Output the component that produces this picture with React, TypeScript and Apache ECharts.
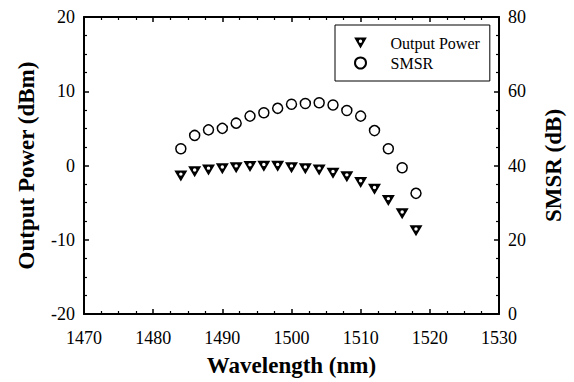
import React, { useEffect, useRef } from "react";
import * as echarts from "echarts";

const wavelengths = [1484, 1486, 1488, 1490, 1492, 1494, 1496, 1498, 1500, 1502, 1504, 1506, 1508, 1510, 1512, 1514, 1516, 1518];
const outputPower = [-1.4, -0.85, -0.6, -0.45, -0.3, -0.15, -0.1, -0.1, -0.3, -0.45, -0.6, -1.05, -1.5, -2.3, -3.2, -4.7, -6.5, -8.8];
const smsr = [44.5, 48.1, 49.6, 50.0, 51.4, 53.3, 54.2, 55.4, 56.5, 56.7, 56.9, 56.3, 54.8, 53.3, 49.4, 44.5, 39.4, 32.5];

const FONT = "Liberation Serif";
const TRI = "path://M0,0L12,0L6,10.4Z M6,1.9A1.6,1.6 0 1 0 6,5.1A1.6,1.6 0 1 0 6,1.9Z";

export default function App() {
  const ref = useRef<HTMLDivElement>(null);
  useEffect(() => {
    document.body.style.margin = "0";
    const chart = echarts.init(ref.current!, undefined, { renderer: "svg" });
    const axisLine = { show: true, onZero: false, lineStyle: { color: "#000", width: 2 } };
    const tick = { show: true, inside: true, length: 5, lineStyle: { color: "#000", width: 1.5 } };
    const minor = { show: true, splitNumber: 4, length: 3, lineStyle: { color: "#000", width: 1.2 } };
    const plain = (v: number) => String(v);
    const label = { color: "#000", fontFamily: FONT, fontSize: 18, formatter: plain };
    const nameStyle = { color: "#000", fontFamily: FONT, fontSize: 23, fontWeight: "bold" as const };
    chart.setOption({
      animation: false,
      backgroundColor: "#fff",
      textStyle: { fontFamily: FONT },
      grid: { left: 84, right: 75, top: 17, bottom: 67 },
      legend: {
        orient: "vertical",
        left: 335,
        top: 25,
        width: 154,
        padding: [10, 10, 10, 19],
        borderColor: "#000",
        borderWidth: 1,
        itemWidth: 14,
        itemHeight: 11,
        itemGap: 4,
        textStyle: { color: "#000", fontFamily: FONT, fontSize: 16, lineHeight: 16, padding: [0, 0, 0, 18] },
        data: ["Output Power", "SMSR"],
      },
      xAxis: [
        {
          type: "value",
          min: 1470,
          max: 1530,
          interval: 10,
          position: "bottom",
          name: "Wavelength (nm)",
          nameLocation: "middle",
          nameGap: 40,
          nameTextStyle: nameStyle,
          axisLine,
          axisTick: tick,
          minorTick: minor,
          axisLabel: { ...label, margin: 15 },
          splitLine: { show: false },
        },
        {
          type: "value",
          min: 1470,
          max: 1530,
          interval: 10,
          position: "top",
          axisLine,
          axisTick: tick,
          minorTick: minor,
          axisLabel: { show: false },
          splitLine: { show: false },
        },
      ],
      yAxis: [
        {
          type: "value",
          min: -20,
          max: 20,
          interval: 10,
          position: "left",
          name: "Output Power (dBm)",
          nameLocation: "middle",
          nameGap: 46,
          nameTextStyle: nameStyle,
          axisLine,
          axisTick: tick,
          minorTick: minor,
          axisLabel: { ...label, margin: 9 },
          splitLine: { show: false },
        },
        {
          type: "value",
          min: 0,
          max: 80,
          interval: 20,
          position: "right",
          name: "SMSR (dB)",
          nameLocation: "middle",
          nameGap: 43,
          nameRotate: 90,
          nameTextStyle: nameStyle,
          axisLine,
          axisTick: tick,
          minorTick: minor,
          axisLabel: { ...label, margin: 9 },
          splitLine: { show: false },
        },
      ],
      series: [
        {
          name: "Output Power",
          type: "scatter",
          xAxisIndex: 0,
          yAxisIndex: 0,
          symbol: TRI,
          symbolSize: [13, 11],
          itemStyle: { color: "#000", opacity: 1 },
          data: wavelengths.map((w, i) => [w, outputPower[i]]),
        },
        {
          name: "SMSR",
          type: "scatter",
          xAxisIndex: 0,
          yAxisIndex: 1,
          symbol: "circle",
          symbolSize: 10,
          itemStyle: { color: "#fff", borderColor: "#000", borderWidth: 1.5, opacity: 1 },
          data: wavelengths.map((w, i) => [w, smsr[i]]),
        },
      ],
    });
    return () => chart.dispose();
  }, []);
  return <div ref={ref} style={{ width: 574, height: 382 }} />;
}
